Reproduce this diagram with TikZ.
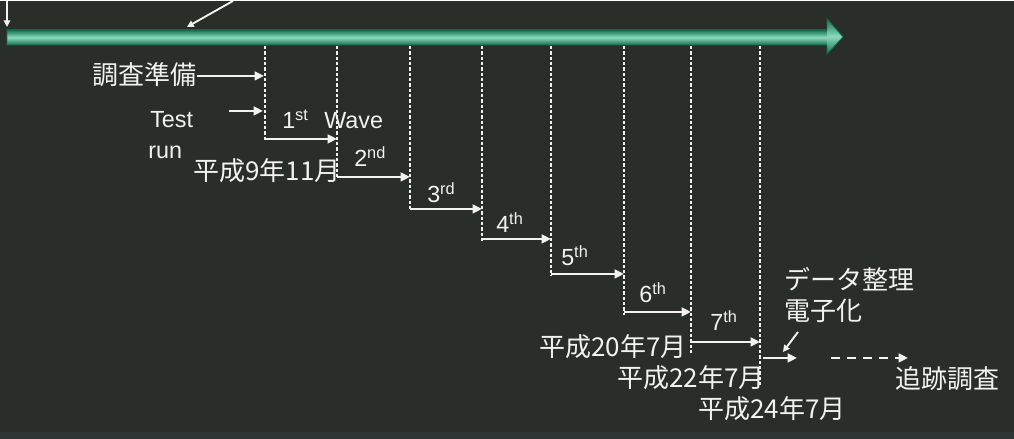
\documentclass[tikz,border=0pt]{standalone}
\usepackage{fontspec}
\setmainfont{Noto Sans CJK JP}
\newfontfamily\latinfont{Liberation Sans}
\usetikzlibrary{arrows.meta}
\definecolor{bg}{RGB}{42,46,41}
\definecolor{bgband}{RGB}{46,51,52}
\definecolor{fg}{RGB}{242,242,238}
\definecolor{gdark}{RGB}{18,112,80}
\definecolor{glight}{RGB}{140,218,188}
\begin{document}
\begin{tikzpicture}[x=0.75pt,y=-0.75pt,
  jp/.style={text=fg, font=\fontsize{19.5}{20}\selectfont, inner sep=0pt, anchor=west},
  lat/.style={text=fg, font=\latinfont\fontsize{17.5}{18}\selectfont, inner sep=0pt, anchor=base west},
  arr/.style={draw=fg, line width=2pt, -{Triangle[length=7pt,width=6.5pt]}},
  thinarr/.style={draw=fg, line width=1pt, -{Triangle[length=5pt,width=5pt]}},
  guide/.style={draw=fg, line width=1pt, dash pattern=on 2.5pt off 1.5pt},
  dasharr/.style={draw=fg, line width=2pt, dash pattern=on 7pt off 5pt, -{Triangle[length=7pt,width=6.5pt]}}]
% background
\fill[bg] (0,0) rectangle (1014,438);
\fill[bgband] (0,431) rectangle (1014,438);
% main time arrow
\shade[top color=gdark, bottom color=gdark, middle color=glight] (7,29) rectangle (828,44);
\shade[top color=gdark, bottom color=gdark, middle color=glight] (827,18) -- (843,36) -- (827,53) -- cycle;
\draw[gdark, line width=0.6pt] (7,29) -- (827,29) -- (827,18) -- (843,36) -- (827,53) -- (827,44) -- (7,44) -- cycle;
% top-left arrows
\coordinate (va0) at (7,0);
\coordinate (va1) at (7,26);
\coordinate (da0) at (233,0);
\coordinate (da1) at (187,26);
\draw[thinarr] (va0) -- (va1);
\draw[thinarr, line width=1.4pt] (da0) -- (da1);
% guide lines
\foreach \n/\x/\yb in {1/265/140, 2/337/177, 3/410/209, 4/482/240, 5/551/275, 6/624/314, 7/691/352, 8/760/384}{
  \coordinate (g\n t) at (\x,45);
  \coordinate (g\n b) at (\x,\yb);
  \draw[guide] (g\n t) -- (g\n b);
}
% wave arrows
\coordinate (pa) at (197,75);  \coordinate (pb) at (264,75);
\coordinate (ta) at (229,110); \coordinate (tb) at (263,110);
\coordinate (w1a) at (265,138); \coordinate (w1b) at (337,138);
\coordinate (w2a) at (337,176); \coordinate (w2b) at (410,176);
\coordinate (w3a) at (410,208); \coordinate (w3b) at (482,208);
\coordinate (w4a) at (482,238); \coordinate (w4b) at (551,238);
\coordinate (w5a) at (551,273); \coordinate (w5b) at (624,273);
\coordinate (w6a) at (624,311); \coordinate (w6b) at (691,311);
\coordinate (w7a) at (691,341); \coordinate (w7b) at (760,341);
\coordinate (pqa) at (763,357); \coordinate (pqb) at (797,357);
\coordinate (fa) at (831,357); \coordinate (fb) at (908,357);
\coordinate (ea) at (798,331); \coordinate (eb) at (783,351);
\draw[arr] (pa) -- (pb);
\draw[arr] (ta) -- (tb);
\draw[arr] (w1a) -- (w1b);
\draw[arr] (w2a) -- (w2b);
\draw[arr] (w3a) -- (w3b);
\draw[arr] (w4a) -- (w4b);
\draw[arr] (w5a) -- (w5b);
\draw[arr] (w6a) -- (w6b);
\draw[arr] (w7a) -- (w7b);
\draw[arr] (pqa) -- (pqb);
\draw[dasharr] (fa) -- (fb);
\draw[thinarr, line width=1.4pt] (ea) -- (eb);
% labels
\node[jp] (prep) at (92,74) {調査準備};
\node[lat] (test) at (150,127) {Test};
\node[lat] (run) at (148,158) {run};
\node[lat] (l1) at (282,128) {1\textsuperscript{st}};
\node[lat] (wave) at (324,128) {Wave};
\node[lat] (l2) at (354,166) {2\textsuperscript{nd}};
\node[lat] (l3) at (427,202) {3\textsuperscript{rd}};
\node[lat] (l4) at (496,232) {4\textsuperscript{th}};
\node[lat] (l5) at (561,265) {5\textsuperscript{th}};
\node[lat] (l6) at (639,302) {6\textsuperscript{th}};
\node[lat] (l7) at (710,330) {7\textsuperscript{th}};
\node[jp] (d1) at (193,170) {平成9年11月};
\node[jp] (d2) at (539,346) {平成20年7月};
\node[jp] (d3) at (617,377) {平成22年7月};
\node[jp] (d4) at (698,408) {平成24年7月};
\node[jp] (data) at (784,278) {データ整理};
\node[jp] (elec) at (784,310) {電子化};
\node[jp] (follow) at (895,378) {追跡調査};
\end{tikzpicture}
\end{document}
